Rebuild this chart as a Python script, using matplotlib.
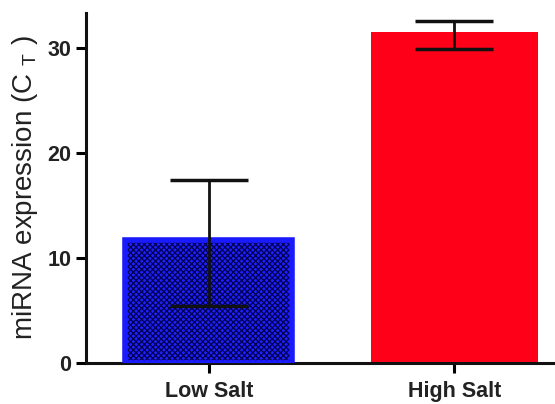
import numpy as np
import matplotlib.pyplot as plt

# values
groups = ['Low Salt', 'High Salt']
ct_mean = [11.7, 31.5]
err_low = [6.3, 1.6]
err_high = [5.7, 1.0]

plt.rcParams['font.family'] = ['Liberation Sans', 'DejaVu Sans']
plt.rcParams['hatch.linewidth'] = 0.9

fig = plt.figure(figsize=(5.55, 4.04), dpi=100)
ax = fig.add_axes([0.155, 0.102, 0.845, 0.866])

x = np.arange(len(groups))
w = 0.68

# blue bar: checker hatch inside, blue border
ax.bar(x[0], ct_mean[0], w, color='#2020ff', edgecolor='#000050', hatch='xxxxxx', linewidth=0, zorder=2)
ax.bar(x[0], ct_mean[0], w, facecolor='none', edgecolor='#1a1aff', linewidth=4, zorder=3)
ax.bar(x[1], ct_mean[1], w, color='#ff0019', linewidth=0, zorder=2)

ax.errorbar(x, ct_mean, yerr=[err_low, err_high], fmt='none', ecolor='#111111',
            elinewidth=2, capsize=28, capthick=2.5, zorder=4)

ax.set_xlim(-0.5, 1.41)
ax.set_ylim(0, 33.3)
ax.set_yticks([0, 10, 20, 30])
ax.set_xticks(x)
ax.set_xticklabels(groups, fontsize=15.5, fontweight='bold', color='#222222')
ax.tick_params(axis='y', labelsize=15.5, width=2.2, length=7, labelcolor='#222222')
ax.tick_params(axis='x', width=2.2, length=7, pad=6)
for lab in ax.get_yticklabels():
    lab.set_fontweight('bold')

ax.set_ylabel('miRNA expression (C $_{\\mathregular{T}}$ )', fontsize=20, color='#222222', labelpad=5)

for s in ['top', 'right']:
    ax.spines[s].set_visible(False)
for s in ['left', 'bottom']:
    ax.spines[s].set_linewidth(2.2)
    ax.spines[s].set_color('#111111')

fig.savefig('out.png', dpi=100)
